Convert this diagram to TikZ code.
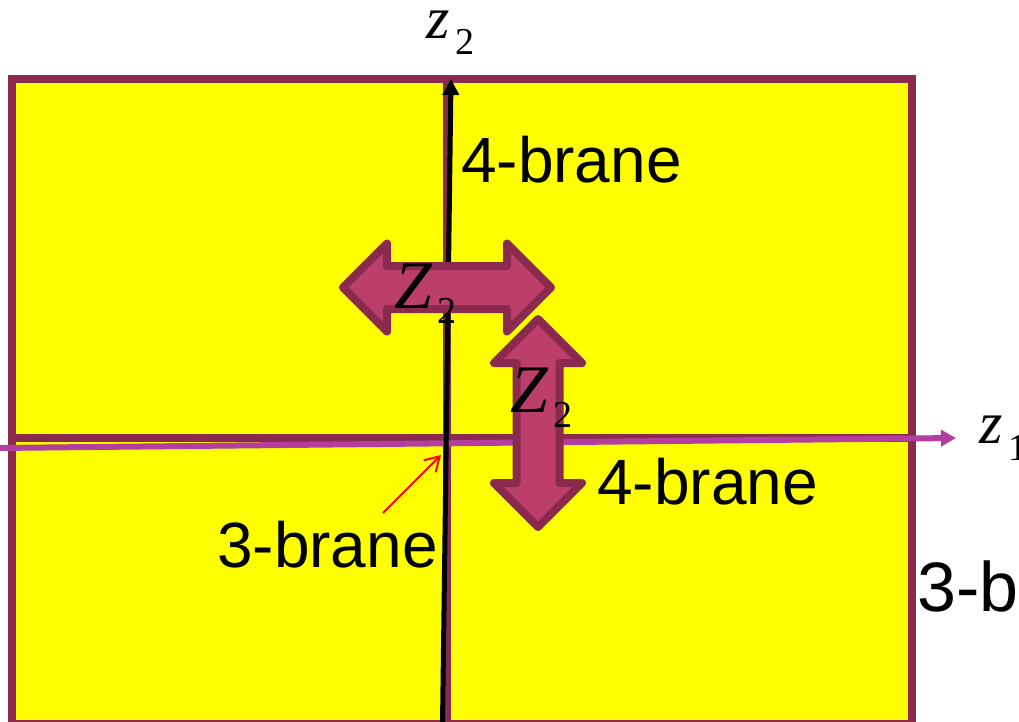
\documentclass[tikz,border=0pt]{standalone}
\usepackage{fontspec}
\setmainfont{Liberation Sans}
\newfontfamily\timesf{Liberation Serif}
\usetikzlibrary{arrows.meta}
\definecolor{brd}{RGB}{138,42,78}
\definecolor{afill}{RGB}{187,62,107}
\definecolor{mag}{RGB}{180,62,160}
\definecolor{yel}{RGB}{255,255,0}
\begin{document}
\begin{tikzpicture}[x=1pt,y=-1pt,
  blockarrow/.style={draw=brd, fill=afill, line width=8pt, line join=round},
  brane/.style={inner sep=0pt, anchor=base west, font=\fontsize{64}{70}\selectfont},
  bigZ/.style={inner sep=0pt, anchor=base west, font=\timesf\itshape\fontsize{68}{72}\selectfont},
  smallz/.style={inner sep=0pt, anchor=base west, font=\timesf\itshape\fontsize{60}{64}\selectfont},
  subs/.style={inner sep=0pt, anchor=base west, font=\timesf\fontsize{38}{40}\selectfont},
  divider/.style={draw=brd, line width=8pt},
]
\useasboundingbox (0,0) rectangle (1019,721);
\begin{scope}
\clip (0,0) rectangle (1019,721);
% plane
\fill[yel] (12,78.5) rectangle (912,724);
\draw[divider] (446.5,78.5) -- (446.5,724);
\draw[divider] (12,437.5) -- (912,437.5);
\draw[divider] (12,78.5) rectangle (912,724);
% axes
\coordinate (m1) at (-4,448);
\coordinate (m2) at (956,438);
\draw[mag, line width=6pt, -{Triangle[length=15pt,width=16pt]}] (m1) -- (m2);
\coordinate (b1) at (442.5,724);
\coordinate (b2) at (451,79);
\draw[black, line width=5pt, -{Triangle[length=16pt,width=16pt]}] (b1) -- (b2);
% block arrows
\draw[blockarrow, shift={(447,287.5)}]
  (-104,0) -- (-60,-44) -- (-60,-21.5) -- (60,-21.5) -- (60,-44) -- (104,0)
  -- (60,44) -- (60,21.5) -- (-60,21.5) -- (-60,44) -- cycle;
\draw[blockarrow, shift={(538,423)}]
  (0,-104) -- (-44,-60) -- (-21.5,-60) -- (-21.5,60) -- (-44,60) -- (0,104)
  -- (44,60) -- (21.5,60) -- (21.5,-60) -- (44,-60) -- cycle;
% labels
\node[bigZ] (za) at (394,308) {Z};
\node[subs] (zasub) at (437,323) {2};
\node[bigZ] (zb) at (510,412) {Z};
\node[subs] (zbsub) at (553,427) {2};
\node[smallz] (z2) at (426,38) {z};
\node[subs] (z2sub) at (455,54) {2};
\node[smallz] (z1) at (979,443) {z};
\node[subs] (z1sub) at (1008,460) {1};
\node[brane] (b4a) at (461,182) {4-brane};
\node[brane] (b4b) at (597,504) {4-brane};
\node[brane] (b3a) at (217,567) {3-brane};
\node[brane, font=\fontsize{70}{76}\selectfont] (b3b) at (917,611) {3-b};
% pointer
\coordinate (r1) at (383,513);
\coordinate (r2) at (441,455);
\draw[red, line width=2pt, -{Straight Barb[length=14pt,width=17pt]}] (r1) -- (r2);
\end{scope}
\end{tikzpicture}
\end{document}
